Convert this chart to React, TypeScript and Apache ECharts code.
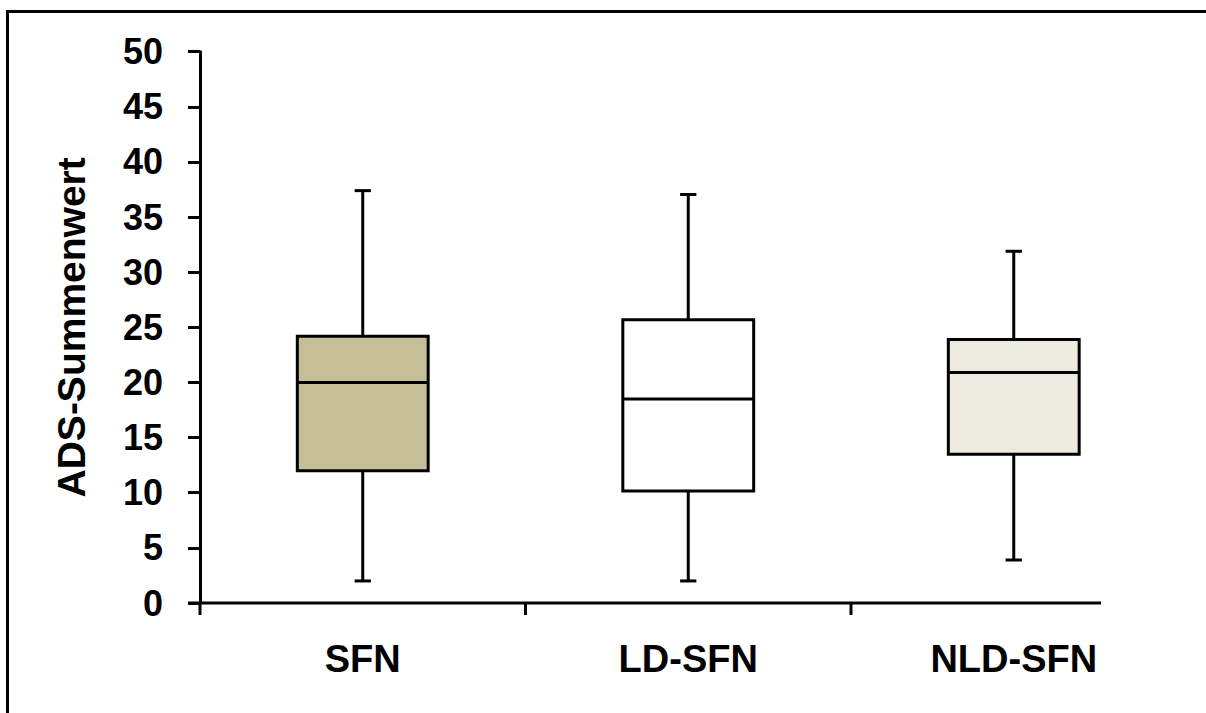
import React, { useEffect, useRef } from "react";
import * as echarts from "echarts";

const categories = ["SFN", "LD-SFN", "NLD-SFN"];
const whiskerMin = [2, 2, 3.9];
const quartile1 = [12, 10.15, 13.5];
const medians = [20, 18.5, 20.9];
const quartile3 = [24.2, 25.7, 23.9];
const whiskerMax = [37.4, 37.05, 31.9];
const boxFills = ["#C5BE99", "#FFFFFF", "#EDEAE0"];
const yTicks = { min: 0, max: 50, interval: 5 };

const FONT = "'Liberation Sans', Arial, sans-serif";

export default function App() {
  const ref = useRef<HTMLDivElement>(null);
  useEffect(() => {
    if (!ref.current) return;
    const chart = echarts.init(ref.current, null, { renderer: "svg" });
    const data = categories.map((_, i) => [
      i,
      whiskerMin[i],
      quartile1[i],
      medians[i],
      quartile3[i],
      whiskerMax[i],
    ]);
    const gridLeft = 200;
    const gridTop = 51.7;
    const gridBottomY = 603;
    const band = 325.5;
    const option: any = {
      animation: false,
      backgroundColor: "#fff",
      grid: {
        left: gridLeft,
        top: gridTop,
        width: band * categories.length,
        height: gridBottomY - gridTop,
        containLabel: false,
      },
      xAxis: {
        type: "category",
        data: categories,
        axisLine: { show: false },
        axisTick: { show: false },
        axisLabel: {
          margin: 37,
          fontSize: 38,
          fontWeight: "bold",
          color: "#000",
          fontFamily: FONT,
        },
        splitLine: { show: false },
      },
      yAxis: {
        type: "value",
        min: yTicks.min,
        max: yTicks.max,
        interval: yTicks.interval,
        name: "ADS-Summenwert",
        nameLocation: "middle",
        nameRotate: 90,
        nameGap: 109,
        nameTextStyle: { fontSize: 39, fontWeight: "bold", color: "#000", fontFamily: FONT },
        axisLine: { show: true, lineStyle: { color: "#000", width: 3 } },
        axisTick: { show: true, inside: false, length: 12, lineStyle: { color: "#000", width: 3 } },
        axisLabel: { margin: 37, fontSize: 36, fontWeight: "bold", color: "#000", fontFamily: FONT },
        splitLine: { show: false },
      },
      series: [
        {
          type: "custom",
          data,
          encode: { x: 0, y: [1, 2, 3, 4, 5] },
          renderItem: (params: any, api: any) => {
            const i = api.value(0);
            const lo = api.coord([i, api.value(1)]);
            const q1 = api.coord([i, api.value(2)]);
            const md = api.coord([i, api.value(3)]);
            const q3 = api.coord([i, api.value(4)]);
            const hi = api.coord([i, api.value(5)]);
            const bw = api.size([1, 0])[0];
            const boxW = bw * 0.402;
            const capW = bw * 0.05;
            const x = lo[0];
            const stroke = { stroke: "#000", lineWidth: 3 };
            return {
              type: "group",
              children: [
                { type: "line", shape: { x1: x, y1: hi[1], x2: x, y2: q3[1] }, style: stroke },
                { type: "line", shape: { x1: x - capW / 2, y1: hi[1], x2: x + capW / 2, y2: hi[1] }, style: stroke },
                { type: "line", shape: { x1: x, y1: lo[1], x2: x, y2: q1[1] }, style: stroke },
                { type: "line", shape: { x1: x - capW / 2, y1: lo[1], x2: x + capW / 2, y2: lo[1] }, style: stroke },
                {
                  type: "rect",
                  shape: { x: x - boxW / 2, y: q3[1], width: boxW, height: q1[1] - q3[1] },
                  style: { fill: boxFills[params.dataIndex], stroke: "#000", lineWidth: 3 },
                },
                { type: "line", shape: { x1: x - boxW / 2, y1: md[1], x2: x + boxW / 2, y2: md[1] }, style: stroke },
              ],
            };
          },
        },
      ],
    };
    chart.setOption(option);

    const y0 = chart.convertToPixel({ yAxisIndex: 0 }, yTicks.min) as number;
    const tickXs = categories.map((_, i) => (chart.convertToPixel({ xAxisIndex: 0 }, i) as number) - band / 2);
    const axisEnd = 1101;
    chart.setOption({
      graphic: [
        {
          type: "rect",
          shape: { x: 7.5, y: 11.5, width: 1300, height: 800 },
          style: { fill: "none", stroke: "#000", lineWidth: 3 },
          silent: true,
        },
        {
          type: "line",
          shape: { x1: tickXs[0] - 12, y1: y0, x2: axisEnd, y2: y0 },
          style: { stroke: "#000", lineWidth: 3 },
          z: 10,
        },
        ...tickXs.map((tx) => ({
          type: "line",
          shape: { x1: tx, y1: y0, x2: tx, y2: y0 + 12 },
          style: { stroke: "#000", lineWidth: 3 },
          z: 10,
        })),
      ],
    });
    return () => chart.dispose();
  }, []);
  return (
    <div
      ref={ref}
      style={{ position: "fixed", left: 0, top: 0, width: 1206, height: 713 }}
    />
  );
}
